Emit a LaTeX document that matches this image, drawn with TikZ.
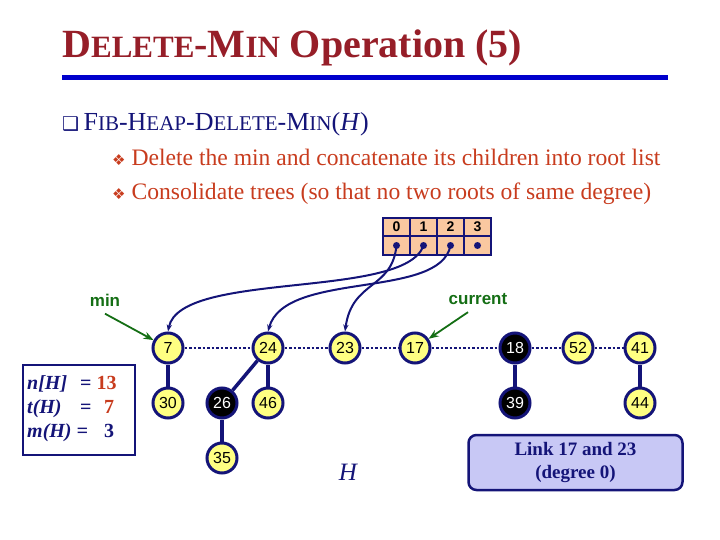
\documentclass[tikz,border=0pt]{standalone}
\usepackage{fontspec}
\setmainfont{Liberation Serif}
\setsansfont{Liberation Sans}
\newfontfamily\symf{DejaVu Sans}
\usetikzlibrary{arrows.meta}
\definecolor{ttl}{RGB}{150,30,40}
\definecolor{nv}{RGB}{20,20,120}
\definecolor{org}{RGB}{200,60,30}
\definecolor{yel}{RGB}{255,255,130}
\definecolor{gr}{RGB}{20,110,20}
\definecolor{cell}{RGB}{250,200,160}
\definecolor{lav}{RGB}{200,200,245}
\tikzset{
 hn/.style={circle,draw=nv,line width=3pt,fill=yel,minimum size=30pt,inner sep=0pt,font=\sffamily\fontsize{16}{16}\selectfont},
 bn/.style={hn,fill=black,text=white},
 tr/.style={nv,line width=3.5pt},
 sib/.style={nv,line width=2.5pt,dotted},
 ptr/.style={nv,line width=2pt,-{Stealth[length=7pt]}},
 garr/.style={gr,line width=1.8pt,-{Stealth[length=10pt]}},
 lbl/.style={gr,font=\sffamily\bfseries\fontsize{17}{17}\selectfont},
 celln/.style={draw=nv,line width=2pt,fill=cell,minimum width=27pt,minimum height=18.5pt,inner sep=0pt,font=\sffamily\bfseries\fontsize{14}{14}\selectfont}
}
\begin{document}
\begin{tikzpicture}[x=1pt,y=-1pt]
\useasboundingbox (0,0) rectangle (720,540);
\node[anchor=base west,text=ttl,font=\bfseries\fontsize{40}{40}\selectfont,inner sep=0] (title) at (62,58) {D{\fontsize{31}{31}\selectfont ELETE}-M{\fontsize{31}{31}\selectfont IN} Operation (5)};
\draw[blue!80!black,line width=5pt] (62,78) -- (668,78);
\node[anchor=base west,text=nv,font=\fontsize{26}{26}\selectfont,inner sep=0] (fib) at (62,131) {{\symf\fontsize{19}{19}\selectfont ❑}\,F{\fontsize{21}{21}\selectfont IB}-H{\fontsize{21}{21}\selectfont EAP}-D{\fontsize{21}{21}\selectfont ELETE}-M{\fontsize{21}{21}\selectfont IN}(\textit{H})};
\node[anchor=base west,text=org,font=\fontsize{23.6}{23.6}\selectfont,inner sep=0] (b1) at (112,166) {{\symf\fontsize{15}{15}\selectfont ❖} Delete the min and concatenate its children into root list};
\node[anchor=base west,text=org,font=\fontsize{23.6}{23.6}\selectfont,inner sep=0] (b2) at (112,200) {{\symf\fontsize{15}{15}\selectfont ❖} Consolidate trees (so that no two roots of same degree)};
% array
\foreach \i/\x in {0/396.5,1/423.5,2/450.5,3/477.5}{
 \node[celln] (c\i) at (\x,227) {\i};
 \node[celln] (d\i) at (\x,245.5) {};
 \fill[nv] (d\i.center) circle (3.5pt);
}
% nodes
\node[hn] (n7) at (168,348) {7};
\node[hn] (n24) at (268,348) {24};
\node[hn] (n23) at (345,348) {23};
\node[hn] (n17) at (415,348) {17};
\node[bn] (n18) at (515,348) {18};
\node[hn] (n52) at (578,348) {52};
\node[hn] (n41) at (640,348) {41};
\node[hn] (n30) at (168,403) {30};
\node[bn] (n26) at (222,403) {26};
\node[hn] (n46) at (268,403) {46};
\node[bn] (n39) at (515,403) {39};
\node[hn] (n44) at (640,403) {44};
\node[hn] (n35) at (222,458) {35};
\foreach \a/\b in {7/24,24/23,23/17,17/18,18/52,52/41}\draw[sib] (n\a) -- (n\b);
\foreach \a/\b in {7/30,24/26,24/46,26/35,18/39,41/44}\draw[tr] (n\a) -- (n\b);
% pointers
\draw[ptr] (d0.center) .. controls (392,290) and (352,280) .. (n23.north);
\draw[ptr] (d1.center) .. controls (405,300) and (180,270) .. (n7.north);
\draw[ptr] (d2.center) .. controls (440,300) and (285,270) .. (n24.north);
% labels
\node[lbl] (min) at (105,300) {min};
\node[lbl] (cur) at (478,299) {current};
\draw[garr] (min.south) ++(0,4) coordinate (m0) -- (n7);
\draw[garr] (cur.south) ++(-10,4) coordinate (c0) -- (n17);
% info box
\node[draw=nv,line width=2.5pt,minimum width=112pt,minimum height=90pt,inner sep=0] (info) at (79,410) {};
\node[anchor=base west,font=\bfseries\itshape\fontsize{20}{20}\selectfont,text=nv,inner sep=0] (l1) at (27,389) {n[H]};
\node[anchor=base west,font=\bfseries\fontsize{20}{20}\selectfont,text=nv,inner sep=0] (e1) at (80,389) {= \textcolor{org}{13}};
\node[anchor=base west,font=\bfseries\itshape\fontsize{20}{20}\selectfont,text=nv,inner sep=0] (l2) at (27,413) {t(H)};
\node[anchor=base west,font=\bfseries\fontsize{20}{20}\selectfont,text=nv,inner sep=0] (e2) at (80,413) {=};
\node[anchor=base west,font=\bfseries\fontsize{20}{20}\selectfont,text=org,inner sep=0] (e2b) at (104,413) {7};
\node[anchor=base west,font=\bfseries\itshape\fontsize{20}{20}\selectfont,text=nv,inner sep=0] (l3) at (27,437) {m(H) =};
\node[anchor=base west,font=\bfseries\fontsize{20}{20}\selectfont,text=nv,inner sep=0] (e3) at (104,437) {3};
\node[font=\itshape\fontsize{25}{25}\selectfont,text=nv] (H) at (348,472) {H};
\node[draw=nv,line width=2.5pt,fill=lav,rounded corners=8pt,minimum width=214pt,minimum height=55pt,align=center,text=nv,font=\bfseries\fontsize{19}{23}\selectfont] (link) at (575.5,462.5) {Link 17 and 23\\(degree 0)};
\end{tikzpicture}
\end{document}
